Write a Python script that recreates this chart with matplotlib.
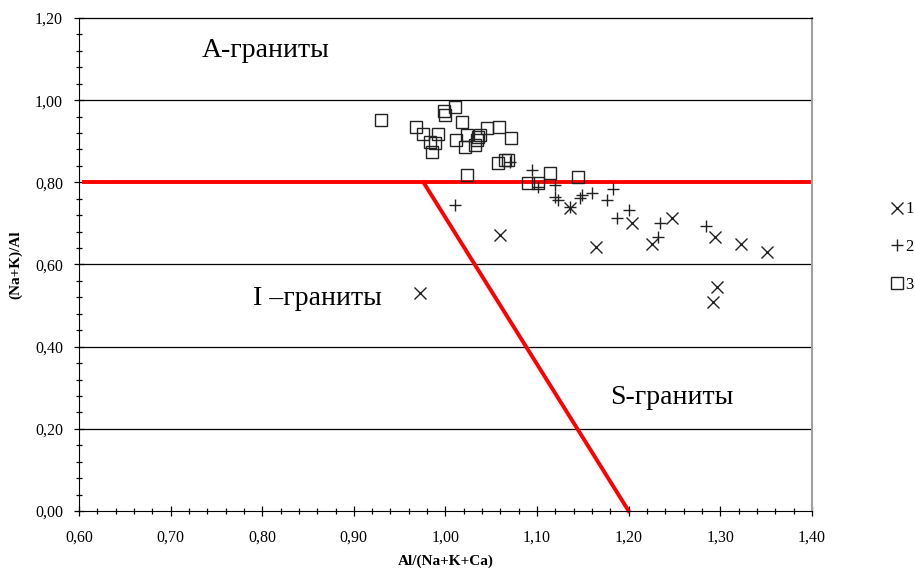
import matplotlib
matplotlib.use("Agg")

import matplotlib.pyplot as plt
from matplotlib.ticker import MultipleLocator, FuncFormatter

plt.rcParams["font.family"] = ["Liberation Serif", "DejaVu Serif"]

# =========================
# data
# =========================
# 1: crosses
s1_x = [0.972, 1.059, 1.164, 1.204, 1.225, 1.247, 1.294, 1.322, 1.351, 1.292, 1.296, 1.136]
s1_y = [0.531, 0.672, 0.643, 0.701, 0.650, 0.713, 0.667, 0.650, 0.630, 0.509, 0.545, 0.738]

# 2: pluses
s2_x = [1.010, 1.070, 1.094, 1.101, 1.120, 1.119, 1.123, 1.147, 1.149, 1.160,
        1.176, 1.183, 1.187, 1.200, 1.234, 1.232, 1.284, 1.136]
s2_y = [0.745, 0.850, 0.830, 0.789, 0.794, 0.764, 0.757, 0.762, 0.769, 0.774,
        0.757, 0.784, 0.713, 0.733, 0.701, 0.667, 0.694, 0.740]

# 3: squares
s3_x = [0.930, 0.968, 0.975, 0.992, 0.983, 0.989, 0.985, 0.998, 0.999, 1.010,
        1.018, 1.011, 1.021, 1.023, 1.032, 1.034, 1.035, 1.038, 1.045, 1.058,
        1.072, 1.057, 1.065, 1.068, 1.023, 1.090, 1.101, 1.114, 1.145]
s3_y = [0.952, 0.935, 0.918, 0.918, 0.898, 0.896, 0.874, 0.974, 0.964, 0.983,
        0.947, 0.903, 0.886, 0.915, 0.891, 0.903, 0.910, 0.915, 0.932, 0.935,
        0.908, 0.847, 0.854, 0.854, 0.818, 0.798, 0.798, 0.822, 0.813]

series_labels = ["1", "2", "3"]

# boundary lines
hline_x = [0.605, 1.40]
hline_y = [0.80, 0.80]
diag_x = [0.976, 1.20]
diag_y = [0.80, 0.00]

fig = plt.figure(figsize=(9.15, 5.76), dpi=100)
ax = fig.add_axes([0.0863, 0.1128, 0.8011, 0.856])

# grid
for gy in [0.2, 0.4, 0.6, 1.0]:
    ax.axhline(gy, color="black", lw=0.9, zorder=1)

ax.plot(hline_x, hline_y, color="#ff0000", lw=2.8, zorder=2)
ax.plot(diag_x, diag_y, color="#ff0000", lw=2.8, zorder=2, clip_on=False)

mk = dict(linestyle="none", color="#222222", markersize=9, markeredgewidth=1.0, zorder=3)
ax.plot(s1_x, s1_y, marker="x", label=series_labels[0], **mk)
ax.plot(s2_x, s2_y, marker="+", label=series_labels[1], **mk)
ax.plot(s3_x, s3_y, marker="s", markerfacecolor="none", label=series_labels[2], **mk)

# region labels
txt = dict(fontsize=20, ha="left", va="center", color="black")
ax.text(0.734, 1.122, "А-граниты", **txt)
ax.text(0.790, 0.518, "I –граниты", **txt)
ax.text(1.180, 0.277, "S-граниты", **txt)

ax.set_xlim(0.6, 1.4)
ax.set_ylim(0.0, 1.2)

comma = FuncFormatter(lambda v, p: f"{v:.2f}".replace(".", ","))
ax.xaxis.set_major_locator(MultipleLocator(0.1))
ax.xaxis.set_minor_locator(MultipleLocator(0.02))
ax.yaxis.set_major_locator(MultipleLocator(0.2))
ax.yaxis.set_minor_locator(MultipleLocator(0.04))
ax.xaxis.set_major_formatter(comma)
ax.yaxis.set_major_formatter(comma)
ax.tick_params(which="major", direction="inout", length=7, width=0.9, labelsize=11.5)
ax.tick_params(axis="x", which="major", pad=10)
ax.tick_params(axis="y", which="major", pad=8)
ax.tick_params(which="minor", direction="inout", length=5, width=0.9)

ax.spines["left"].set_color("black")
ax.spines["bottom"].set_color("black")
ax.spines["top"].set_color("black")
ax.spines["top"].set_linewidth(0.9)
ax.spines["right"].set_color("#a0a0a0")
ax.spines["right"].set_linewidth(1.5)

ax.set_xlabel("Al/(Na+K+Ca)", fontsize=11, fontweight="bold", labelpad=6)
ax.set_ylabel("(Na+K)/Al", fontsize=11, fontweight="bold", labelpad=9)

fig.legend(loc="center left", bbox_to_anchor=(0.973, 1 - 247 / 576), frameon=False,
           fontsize=12, handlelength=0.8, handletextpad=0.1, labelspacing=1.3,
           borderaxespad=0, borderpad=0)

fig.savefig("out.png", dpi=100, facecolor="white")
